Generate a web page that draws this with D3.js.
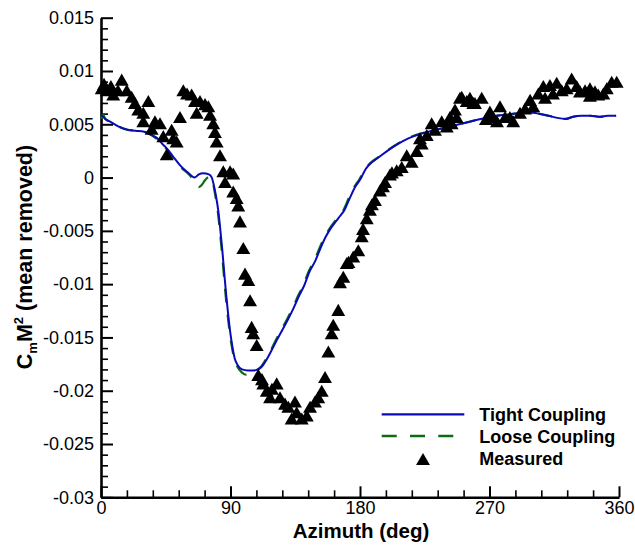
<!DOCTYPE html>
<html>
<head>
<meta charset="utf-8">
<script src="https://cdn.jsdelivr.net/npm/d3@7"></script>
<style>
  html, body { margin: 0; padding: 0; background: #fff; }
  svg { display: block; font-family: "Liberation Sans", Arial, Helvetica, sans-serif; }
</style>
</head>
<body>
<svg id="chart" width="635" height="546"></svg>
<script>
// ---------------- data ----------------
const xTicks = [0, 90, 180, 270, 360];
const xTickLabels = ["0", "90", "180", "270", "360"];
const yTicks = [-0.03, -0.025, -0.02, -0.015, -0.01, -0.005, 0, 0.005, 0.01, 0.015];
const yTickLabels = ["-0.03", "-0.025", "-0.02", "-0.015", "-0.01", "-0.005", "0", "0.005", "0.01", "0.015"];

const seriesNames = ["Tight Coupling", "Loose Coupling", "Measured"];

const tightAz = [0, 3, 7, 12, 18, 24, 30, 35, 39, 43, 46, 50, 56, 61, 65, 68, 71, 75, 77, 78.7, 80, 81.5, 83, 84.3, 86, 87, 88.5, 90, 91.5, 93, 95, 98, 102, 106, 109, 112, 115, 118.6, 122, 126, 130, 134, 138, 141, 145, 149, 152, 156, 160, 165, 169, 173, 177, 180, 182, 184, 188, 193, 200, 207, 214, 222, 230, 240, 246, 255, 264, 275, 288, 297, 304, 311, 317, 323, 328, 334, 340, 347, 352, 358];
const tightCm = [0.0059, 0.0055, 0.0052, 0.0048, 0.0045, 0.0044, 0.0043, 0.0040, 0.0037, 0.0031, 0.0027, 0.0020, 0.0010, 0.0004, 0.0000, 0.0003, 0.0004, 0.0003, 0.0000, -0.0009, -0.0018, -0.0031, -0.0050, -0.0068, -0.0095, -0.0110, -0.0130, -0.0147, -0.0160, -0.0170, -0.0176, -0.0180, -0.0181, -0.0181, -0.0180, -0.0177, -0.0171, -0.0162, -0.0153, -0.0143, -0.0133, -0.0122, -0.0110, -0.0102, -0.0088, -0.0078, -0.0068, -0.0056, -0.0047, -0.0038, -0.0031, -0.0019, -0.0008, -0.0002, 0.0003, 0.0008, 0.0014, 0.0019, 0.0026, 0.0032, 0.0037, 0.0041, 0.0044, 0.0047, 0.0049, 0.0052, 0.0055, 0.0058, 0.0060, 0.0061, 0.0060, 0.0058, 0.0056, 0.0055, 0.0057, 0.0058, 0.0058, 0.0057, 0.0058, 0.0058];

const looseAz = [0, 1.5, 3, 7, 12, 18, 24, 30, 35, 39, 43, 46, 50, 56, 61, 64, 66, 68, 70, 72, 74, 76, 77.5, 78.8, 79.6, 81.1, 82.6, 83.9, 85.6, 86.6, 88.1, 89.6, 91.1, 92.6, 94.6, 98, 101, 104, 107, 110, 111.5, 114.4, 118, 121.3, 125.3, 129.3, 133.3, 137.3, 140.3, 144.3, 148.3, 151.3, 155.3, 159.3, 164.3, 168.3, 172.3, 176.4, 179.4, 181.5, 183.5, 187.5, 192.5, 199.5, 206.5, 213.5, 221.5, 230, 240, 246, 255, 264, 275, 288, 297, 304, 311, 317, 323, 328, 334, 340, 347, 352, 358];
const looseCm = [0.0055, 0.0059, 0.0055, 0.0052, 0.0048, 0.0045, 0.0044, 0.0043, 0.0040, 0.0036, 0.0031, 0.0026, 0.0019, 0.0009, 0.0003, -0.0002, -0.0007, -0.0009, -0.0007, -0.0003, 0.0000, 0.0001, -0.0003, -0.0012, -0.0018, -0.0031, -0.0050, -0.0068, -0.0095, -0.0110, -0.0130, -0.0147, -0.0160, -0.0170, -0.0177, -0.0183, -0.0185, -0.0185, -0.0182, -0.0179, -0.0177, -0.0171, -0.0162, -0.0153, -0.0143, -0.0133, -0.0122, -0.0110, -0.0102, -0.0088, -0.0078, -0.0068, -0.0056, -0.0047, -0.0038, -0.0031, -0.0019, -0.0008, -0.0002, 0.0003, 0.0008, 0.0014, 0.0019, 0.0026, 0.0032, 0.0037, 0.0041, 0.0044, 0.0047, 0.0049, 0.0052, 0.0055, 0.0058, 0.0060, 0.0061, 0.0060, 0.0058, 0.0056, 0.0055, 0.0057, 0.0058, 0.0058, 0.0057, 0.0058, 0.0058];

const measuredAz = [0.5, 2.1, 4.0, 6.9, 8.5, 11.8, 14.4, 17.9, 21.3, 23.6, 25.9, 29.4, 29.4, 32.9, 35.2, 37.5, 41.0, 43.3, 45.7, 49.1, 50.2, 52.6, 54.9, 57.2, 59.8, 63.0, 65.3, 66.5, 68.8, 72.3, 74.6, 75.8, 78.0, 79.2, 80.4, 82.7,
  85.0, 89.7, 91.9, 86.2, 91.9, 94.3, 95.4, 96.6, 98.9, 100.1, 102.4, 103.6, 104.7, 105.8, 108.2, 109.3, 111.9, 112.8, 115.2, 117.5, 118.8, 122.1, 124.4, 127.9, 130.2, 132.5, 134.8, 136.0, 139.5, 143.0, 145.3, 148.7, 151.0, 153.4, 155.7, 158.0, 160.3, 161.4, 164.9, 166.1, 168.4, 170.8,
  172.0, 175.3, 178.8, 181.2, 182.1, 184.7, 186.9, 188.3, 190.4, 193.9, 196.0, 197.4, 200.8, 202.2, 205.5, 209.0, 212.5, 215.9, 219.4, 221.7, 222.9, 226.4, 229.8, 232.1, 236.8, 240.3, 243.7, 247.2, 249.5, 254.2, 258.7,
  242.5, 246.0, 250.7, 256.4, 259.9, 264.6, 267.5, 270.3, 272.6, 275.2, 277.3, 280.8, 284.2, 286.5, 291.2, 294.7, 298.2, 300.4, 303.9, 307.4, 308.6, 312.0, 314.1, 316.7, 320.2, 323.6, 327.1, 330.6, 332.9, 336.4, 339.8, 339.8, 343.3, 345.6, 349.1, 351.5, 354.9, 358.4];
const measuredCm = [0.0082, 0.0086, 0.0080, 0.0084, 0.0076, 0.0080, 0.0090, 0.0080, 0.0074, 0.0068, 0.0062, 0.0059, 0.0051, 0.0070, 0.0044, 0.0051, 0.0049, 0.0037, 0.0020, 0.0043, 0.0035, 0.0032, 0.0055, 0.0080, 0.0077, 0.0076, 0.0070, 0.0059, 0.0070, 0.0067, 0.0065, 0.0057, 0.0049, 0.0041, 0.0032, 0.0019,
  0.0004, 0.0004, 0.0002, -0.0006, -0.0015, -0.0021, -0.0028, -0.0043, -0.0068, -0.0092, -0.0098, -0.0117, -0.0142, -0.0148, -0.0159, -0.0187, -0.0191, -0.0195, -0.0202, -0.0208, -0.0200, -0.0195, -0.0208, -0.0214, -0.0217, -0.0228, -0.0212, -0.0222, -0.0228, -0.0225, -0.0217, -0.0212, -0.0208, -0.0202, -0.0189, -0.0165, -0.0148, -0.0140, -0.0126, -0.0100, -0.0095, -0.0082,
  -0.0081, -0.0076, -0.0070, -0.0057, -0.0050, -0.0040, -0.0032, -0.0027, -0.0023, -0.0014, -0.0010, -0.0006, 0.0001, 0.0003, 0.0005, 0.0008, 0.0019, 0.0013, 0.0023, 0.0035, 0.0030, 0.0038, 0.0049, 0.0043, 0.0051, 0.0046, 0.0049, 0.0055, 0.0073, 0.0070, 0.0068,
  0.0055, 0.0062, 0.0074, 0.0073, 0.0068, 0.0073, 0.0053, 0.0060, 0.0055, 0.0051, 0.0065, 0.0055, 0.0055, 0.0051, 0.0059, 0.0063, 0.0071, 0.0065, 0.0077, 0.0084, 0.0073, 0.0085, 0.0077, 0.0087, 0.0080, 0.0082, 0.0091, 0.0084, 0.0079, 0.0080, 0.0082, 0.0075, 0.0079, 0.0076, 0.0077, 0.0082, 0.0088, 0.0088];

// ---------------- chart ----------------
const svg = d3.select("#chart");
const FONT = '"Liberation Sans", Arial, Helvetica, sans-serif';
const x = d3.scaleLinear().domain([0, 360]).range([101, 619]);
const y = d3.scaleLinear().domain([-0.03, 0.015]).range([497.3, 17.7]);

const BLUE = "#0a0ab8";
const GREEN = "#0e6b12";

// minor ticks
const xMinor = d3.range(0, 361, 18).filter(v => v % 90 !== 0);
const yMinor = d3.range(-30, 16, 1).filter(v => v % 5 !== 0).map(v => v / 1000);

svg.append("g").attr("transform", "translate(0,497.3)")
  .call(d3.axisBottom(x).tickValues(xMinor).tickSize(-7).tickFormat(""))
  .call(g => g.select(".domain").remove())
  .call(g => g.selectAll("line").attr("stroke", "#000").attr("stroke-width", 1.6));
svg.append("g").attr("transform", "translate(101,0)")
  .call(d3.axisLeft(y).tickValues(yMinor).tickSize(-7).tickFormat(""))
  .call(g => g.select(".domain").remove())
  .call(g => g.selectAll("line").attr("stroke", "#000").attr("stroke-width", 1.6));

// major axes
const xAxis = svg.append("g").attr("transform", "translate(0,497.3)")
  .call(d3.axisBottom(x).tickValues(xTicks).tickSize(-11).tickSizeOuter(0).tickPadding(4)
    .tickFormat((d, i) => xTickLabels[i]));
xAxis.select(".domain").attr("stroke", "#000").attr("stroke-width", 2.6);
xAxis.selectAll("line").attr("stroke", "#000").attr("stroke-width", 2);
xAxis.selectAll("text").attr("font-size", 18).attr("font-family", FONT).attr("fill", "#000");

const yAxis = svg.append("g").attr("transform", "translate(101,0)")
  .call(d3.axisLeft(y).tickValues(yTicks).tickSize(-12).tickSizeOuter(0).tickPadding(7)
    .tickFormat((d, i) => yTickLabels[i]));
yAxis.select(".domain").attr("stroke", "#000").attr("stroke-width", 2.6);
yAxis.selectAll("line").attr("stroke", "#000").attr("stroke-width", 2);
yAxis.selectAll("text").attr("font-size", 18).attr("font-family", FONT).attr("fill", "#000");

// lines
const line = d3.line().x(d => x(d[0])).y(d => y(d[1])).curve(d3.curveMonotoneX);
const loosePts = looseAz.map((a, i) => [a, looseCm[i]]);
const tightPts = tightAz.map((a, i) => [a, tightCm[i]]);

svg.append("path").datum(loosePts).attr("d", line)
  .attr("fill", "none").attr("stroke", GREEN).attr("stroke-width", 2.2)
  .attr("stroke-dasharray", "14,12");
svg.append("path").datum(tightPts).attr("d", line)
  .attr("fill", "none").attr("stroke", BLUE).attr("stroke-width", 2);

// measured triangles
const tri = d3.symbol().type(d3.symbolTriangle).size(84);
svg.append("g").selectAll("path")
  .data(measuredAz.map((a, i) => [a, measuredCm[i]]))
  .join("path")
  .attr("d", tri)
  .attr("transform", d => `translate(${x(d[0])},${y(d[1])})`)
  .attr("fill", "#000");

// axis titles
svg.append("text")
  .attr("x", 361).attr("y", 537.5)
  .attr("text-anchor", "middle")
  .attr("font-size", 20.5).attr("font-weight", "bold").attr("font-family", FONT)
  .text("Azimuth (deg)");

const yt = svg.append("text")
  .attr("transform", "translate(32,257) rotate(-90)")
  .attr("text-anchor", "middle")
  .attr("font-size", 21.5).attr("font-weight", "bold").attr("font-family", FONT);
yt.append("tspan").text("C");
yt.append("tspan").attr("font-size", 13).attr("dy", 5).text("m");
yt.append("tspan").attr("dy", -5).text("M");
yt.append("tspan").attr("font-size", 13).attr("dy", -9).text("2");
yt.append("tspan").attr("dy", 9).text(" (mean removed)");

// legend
const lg = svg.append("g");
const legendRows = [420.7, 442.7, 465];
lg.append("line").attr("x1", 381.7).attr("x2", 464.3).attr("y1", 414.3).attr("y2", 414.3)
  .attr("stroke", BLUE).attr("stroke-width", 2.2);
lg.append("line").attr("x1", 381.7).attr("x2", 464.3).attr("y1", 436).attr("y2", 436)
  .attr("stroke", GREEN).attr("stroke-width", 2.4).attr("stroke-dasharray", "15,13.3");
lg.append("path").attr("d", tri).attr("transform", "translate(423,461)").attr("fill", "#000");
seriesNames.forEach((n, i) => {
  lg.append("text").attr("x", 479.3).attr("y", legendRows[i])
    .attr("font-size", 18).attr("font-weight", "bold").attr("font-family", FONT)
    .text(n);
});
</script>
</body>
</html>
